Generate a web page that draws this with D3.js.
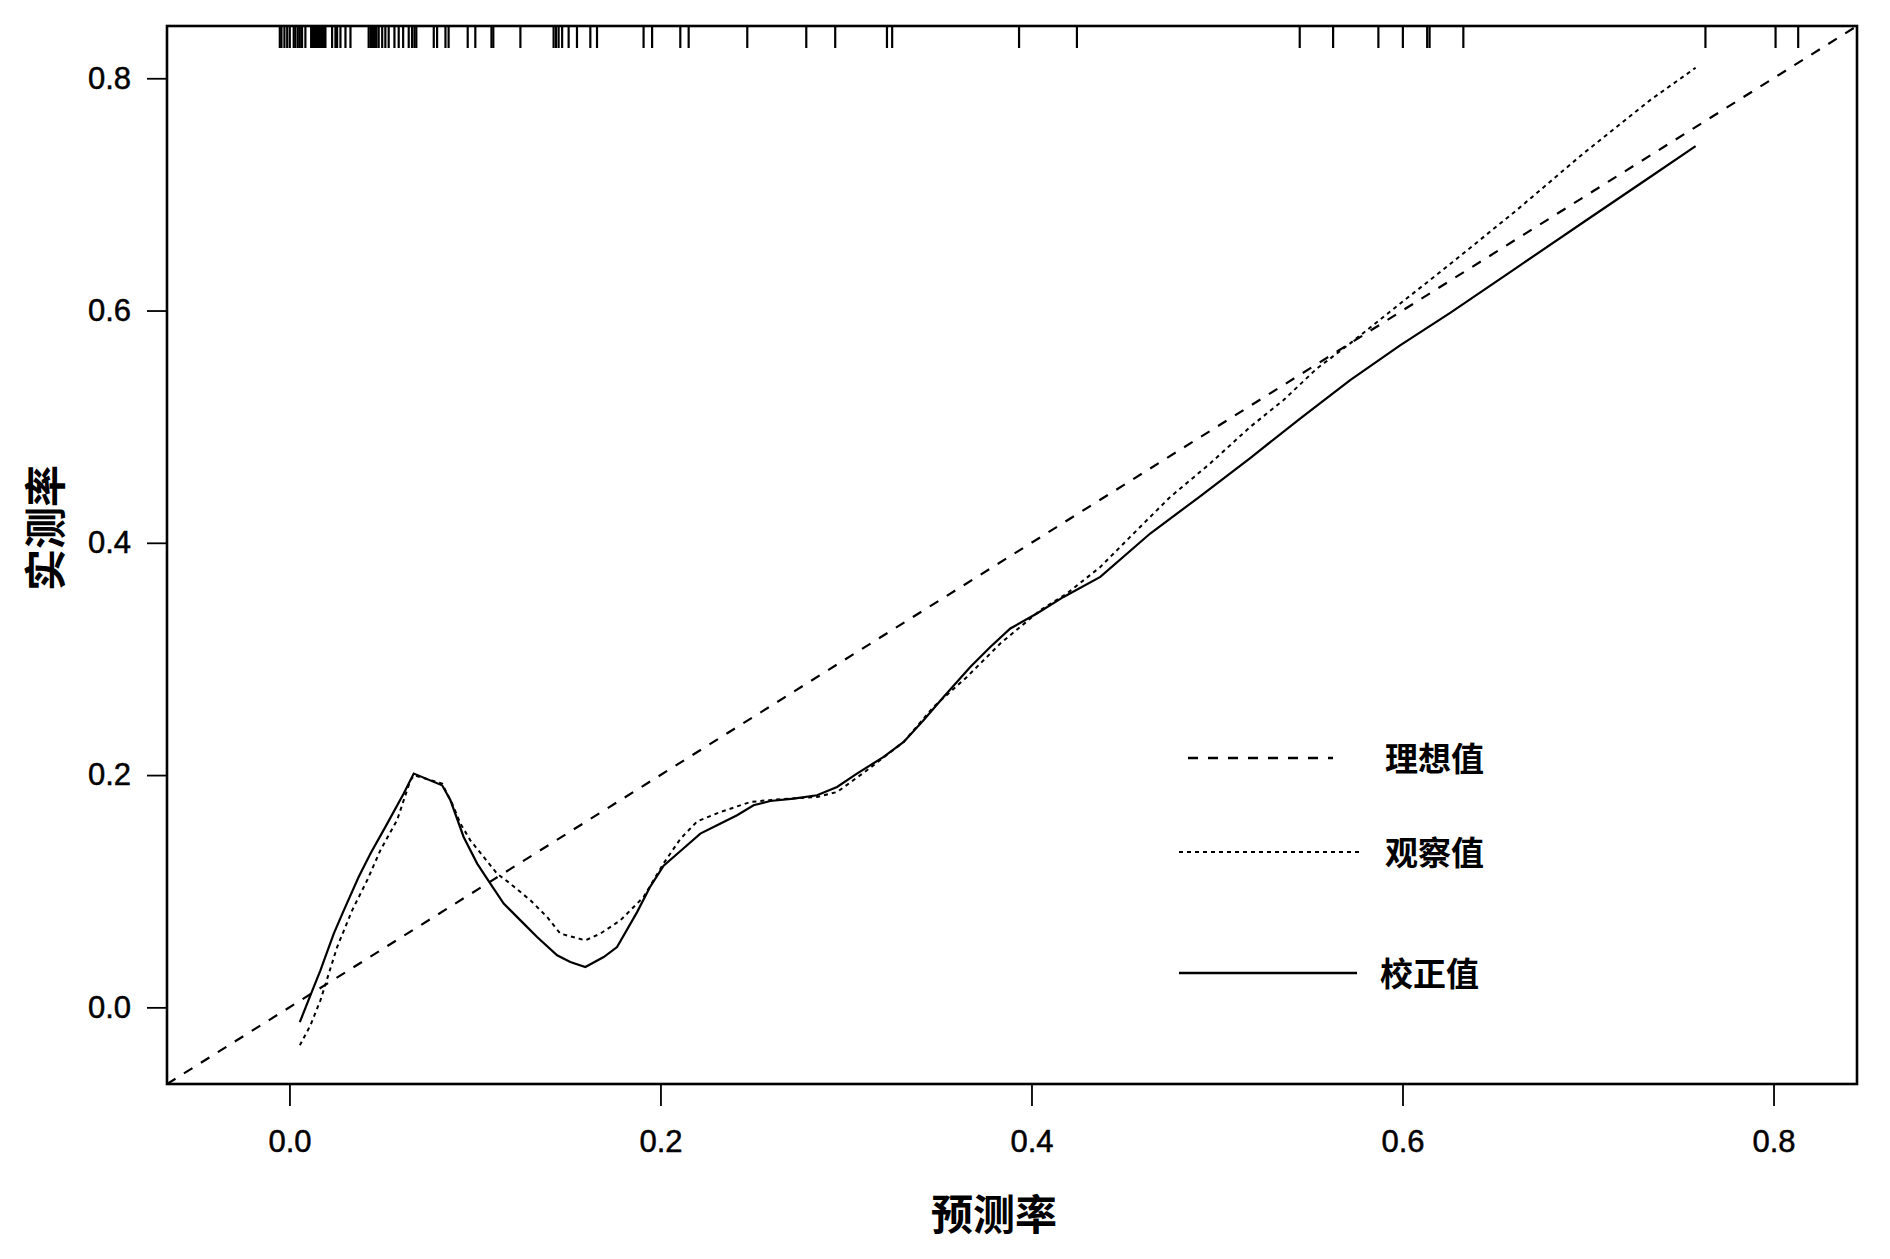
<!DOCTYPE html>
<html>
<head>
<meta charset="utf-8">
<script src="https://cdnjs.cloudflare.com/ajax/libs/d3/7.8.5/d3.min.js"></script>
<style>
  body { margin: 0; background: #fff; }
  svg text { fill: #000; }
</style>
</head>
<body>
<div id="chart"></div>
<script>
// predicted probabilities (rug marks along the top)
var rugX = [-0.0052, -0.0043, -0.0027, -0.0012, 0.0002, 0.0023, 0.0032, 0.0045, 0.0056, 0.0068, 0.0086,
    0.0117, 0.0124, 0.0132, 0.0140, 0.0148, 0.0156, 0.0164, 0.0172, 0.0181, 0.0189, 0.0194,
    0.0230, 0.0248, 0.0257, 0.0275, 0.0302, 0.0329, 0.0427, 0.0437, 0.0445, 0.0453, 0.0461, 0.0469,
    0.0481, 0.0500, 0.0517, 0.0535, 0.0566, 0.0589, 0.0613, 0.0643, 0.0661, 0.0674, 0.0684,
    0.0778, 0.0796, 0.0841, 0.0858, 0.0961, 0.1002, 0.1089, 0.1099, 0.1245, 0.1424, 0.1437, 0.1451,
    0.1470, 0.1505, 0.1550, 0.1622, 0.1658, 0.1909, 0.1955, 0.2107, 0.2152, 0.2468, 0.2786, 0.2942,
    0.3221, 0.3249, 0.3933, 0.4245, 0.5446, 0.5626, 0.5870, 0.6002, 0.6133, 0.6146, 0.6328,
    0.7633, 0.8011, 0.8133];

// 观察值 (apparent, dotted)
var obsX = [0.0056, 0.0113, 0.0167, 0.0257, 0.0338, 0.0419, 0.0490, 0.0580, 0.0652, 0.0674, 0.0823, 0.0877,
    0.0922, 0.0975, 0.1047, 0.1119, 0.1191, 0.1299, 0.1389, 0.1460, 0.1595, 0.1676, 0.1784, 0.1909, 0.2017,
    0.2107, 0.2197, 0.2323, 0.2484, 0.2574, 0.2718, 0.2844, 0.2952, 0.3113, 0.3311, 0.3472, 0.3652, 0.3832,
    0.4047, 0.4191, 0.4371, 0.4532, 0.4748, 0.4963, 0.5179, 0.5358, 0.5538, 0.5718, 0.5897, 0.6059, 0.6257,
    0.6616, 0.6975, 0.7335, 0.7580];
var obsY = [-0.0327, -0.0155, 0.0060, 0.0519, 0.0835, 0.1094, 0.1352, 0.1611, 0.1955, 0.1998, 0.1927, 0.1755,
    0.1582, 0.1438, 0.1295, 0.1152, 0.1065, 0.0922, 0.0778, 0.0635, 0.0577, 0.0635, 0.0749, 0.0950, 0.1240,
    0.1450, 0.1600, 0.1682, 0.1768, 0.1783, 0.1800, 0.1812, 0.1854, 0.2041, 0.2285, 0.2587, 0.2845, 0.3133,
    0.3419, 0.3563, 0.3792, 0.4051, 0.4395, 0.4683, 0.4998, 0.5228, 0.5500, 0.5717, 0.5945, 0.6150, 0.6400,
    0.6865, 0.7353, 0.7812, 0.8090];

// 校正值 (bias corrected, solid)
var corX = [0.0056, 0.0113, 0.0167, 0.0239, 0.0293, 0.0373, 0.0437, 0.0527, 0.0616, 0.0670, 0.0823, 0.0868,
    0.0939, 0.1012, 0.1083, 0.1155, 0.1263, 0.1335, 0.1443, 0.1514, 0.1595, 0.1694, 0.1766, 0.1874, 0.1945,
    0.2017, 0.2125, 0.2215, 0.2305, 0.2413, 0.2502, 0.2592, 0.2718, 0.2844, 0.2952, 0.3059, 0.3203, 0.3311,
    0.3418, 0.3526, 0.3670, 0.3778, 0.3886, 0.4029, 0.4173, 0.4371, 0.4640, 0.4909, 0.5179, 0.5448, 0.5718,
    0.5987, 0.6257, 0.6616, 0.6975, 0.7335, 0.7580];
var corY = [-0.0127, 0.0103, 0.0319, 0.0635, 0.0835, 0.1122, 0.1324, 0.1582, 0.1841, 0.2013, 0.1912, 0.1783,
    0.1467, 0.1238, 0.1065, 0.0893, 0.0721, 0.0606, 0.0448, 0.0390, 0.0347, 0.0433, 0.0519, 0.0820, 0.1040,
    0.1220, 0.1370, 0.1496, 0.1568, 0.1654, 0.1740, 0.1777, 0.1798, 0.1826, 0.1898, 0.2013, 0.2156, 0.2285,
    0.2472, 0.2673, 0.2931, 0.3103, 0.3262, 0.3391, 0.3534, 0.3706, 0.4080, 0.4400, 0.4730, 0.5070, 0.5400,
    0.5700, 0.5980, 0.6370, 0.6760, 0.7150, 0.7416];

var lim = [-0.066, 0.845];
var ticks = [0.0, 0.2, 0.4, 0.6, 0.8];
var legendNames = ["理想值", "观察值", "校正值"];

var W = 1890, H = 1259;
var m = { left: 167, right: 33, top: 26, bottom: 175 };
var pw = W - m.left - m.right, ph = H - m.top - m.bottom;
var cjk = "'Noto Sans CJK SC', 'Noto Sans', sans-serif";
var latin = "'Liberation Sans', Arial, sans-serif";

var svg = d3.select("#chart").append("svg")
    .attr("width", W)
    .attr("height", H);

var x = d3.scaleLinear().domain(lim).range([0, pw]);
var y = d3.scaleLinear().domain(lim).range([ph, 0]);

var g = svg.append("g").attr("transform", "translate(" + m.left + "," + m.top + ")");

g.append("clipPath").attr("id", "clip")
    .append("rect").attr("width", pw).attr("height", ph);

// axes
var xAxis = g.append("g")
    .attr("transform", "translate(0," + ph + ")")
    .call(d3.axisBottom(x).tickValues(ticks).tickFormat(d3.format(".1f")).tickSize(22).tickPadding(24));
var yAxis = g.append("g")
    .call(d3.axisLeft(y).tickValues(ticks).tickFormat(d3.format(".1f")).tickSize(20).tickPadding(16));
[xAxis, yAxis].forEach(function (a) {
    a.select(".domain").remove();
    a.selectAll(".tick line").attr("stroke", "#000").attr("stroke-width", 1.8);
    a.selectAll(".tick text").attr("font-family", latin).attr("font-size", 31)
        .attr("fill", "#000").attr("stroke", "#000").attr("stroke-width", 0.5);
});

var line = d3.line()
    .x(function (d) { return x(d[0]); })
    .y(function (d) { return y(d[1]); });

var plot = g.append("g").attr("clip-path", "url(#clip)");

// ideal line y = x
plot.append("path")
    .datum([[lim[0], lim[0]], [lim[1], lim[1]]])
    .attr("d", line)
    .attr("fill", "none")
    .attr("stroke", "#000")
    .attr("stroke-width", 2.2)
    .attr("stroke-dasharray", "10,10");

plot.append("path")
    .datum(obsX.map(function (d, i) { return [d, obsY[i]]; }))
    .attr("d", line)
    .attr("fill", "none")
    .attr("stroke", "#000")
    .attr("stroke-width", 2)
    .attr("stroke-dasharray", "4,4");

plot.append("path")
    .datum(corX.map(function (d, i) { return [d, corY[i]]; }))
    .attr("d", line)
    .attr("fill", "none")
    .attr("stroke", "#000")
    .attr("stroke-width", 2.2);

// rug at top
plot.selectAll("line.rug")
    .data(rugX)
    .enter()
    .append("line")
    .attr("class", "rug")
    .attr("x1", function (d) { return x(d); })
    .attr("x2", function (d) { return x(d); })
    .attr("y1", 0)
    .attr("y2", 22)
    .attr("stroke", "#000")
    .attr("stroke-width", 2.2);

// frame
g.append("rect")
    .attr("width", pw)
    .attr("height", ph)
    .attr("fill", "none")
    .attr("stroke", "#000")
    .attr("stroke-width", 2.6);

// axis titles
svg.append("text")
    .attr("x", 994)
    .attr("y", 1211)
    .attr("text-anchor", "middle")
    .attr("dominant-baseline", "central")
    .attr("font-family", cjk)
    .attr("font-weight", "bold")
    .attr("font-size", 42)
    .text("预测率");

svg.append("text")
    .attr("transform", "translate(42,528) rotate(-90)")
    .attr("text-anchor", "middle")
    .attr("dominant-baseline", "central")
    .attr("font-family", cjk)
    .attr("font-weight", "bold")
    .attr("font-size", 42)
    .text("实测率");

// legend
var legY = [758, 852, 973];
var legX1 = [1188, 1179, 1179], legX2 = [1333, 1360, 1357];
var legDash = ["10,10", "4,4", null];
var legTx = [1385, 1385, 1380];
var leg = svg.selectAll("g.leg")
    .data(legendNames)
    .enter()
    .append("g")
    .attr("class", "leg");
leg.append("line")
    .attr("x1", function (d, i) { return legX1[i]; })
    .attr("x2", function (d, i) { return legX2[i]; })
    .attr("y1", function (d, i) { return legY[i]; })
    .attr("y2", function (d, i) { return legY[i]; })
    .attr("stroke", "#000")
    .attr("stroke-width", function (d, i) { return i === 1 ? 2 : 2.4; })
    .attr("stroke-dasharray", function (d, i) { return legDash[i]; });
leg.append("text")
    .attr("x", function (d, i) { return legTx[i]; })
    .attr("y", function (d, i) { return legY[i] - 1; })
    .attr("dominant-baseline", "central")
    .attr("font-family", cjk)
    .attr("font-weight", "bold")
    .attr("font-size", 33)
    .text(function (d) { return d; });
</script>
</body>
</html>
